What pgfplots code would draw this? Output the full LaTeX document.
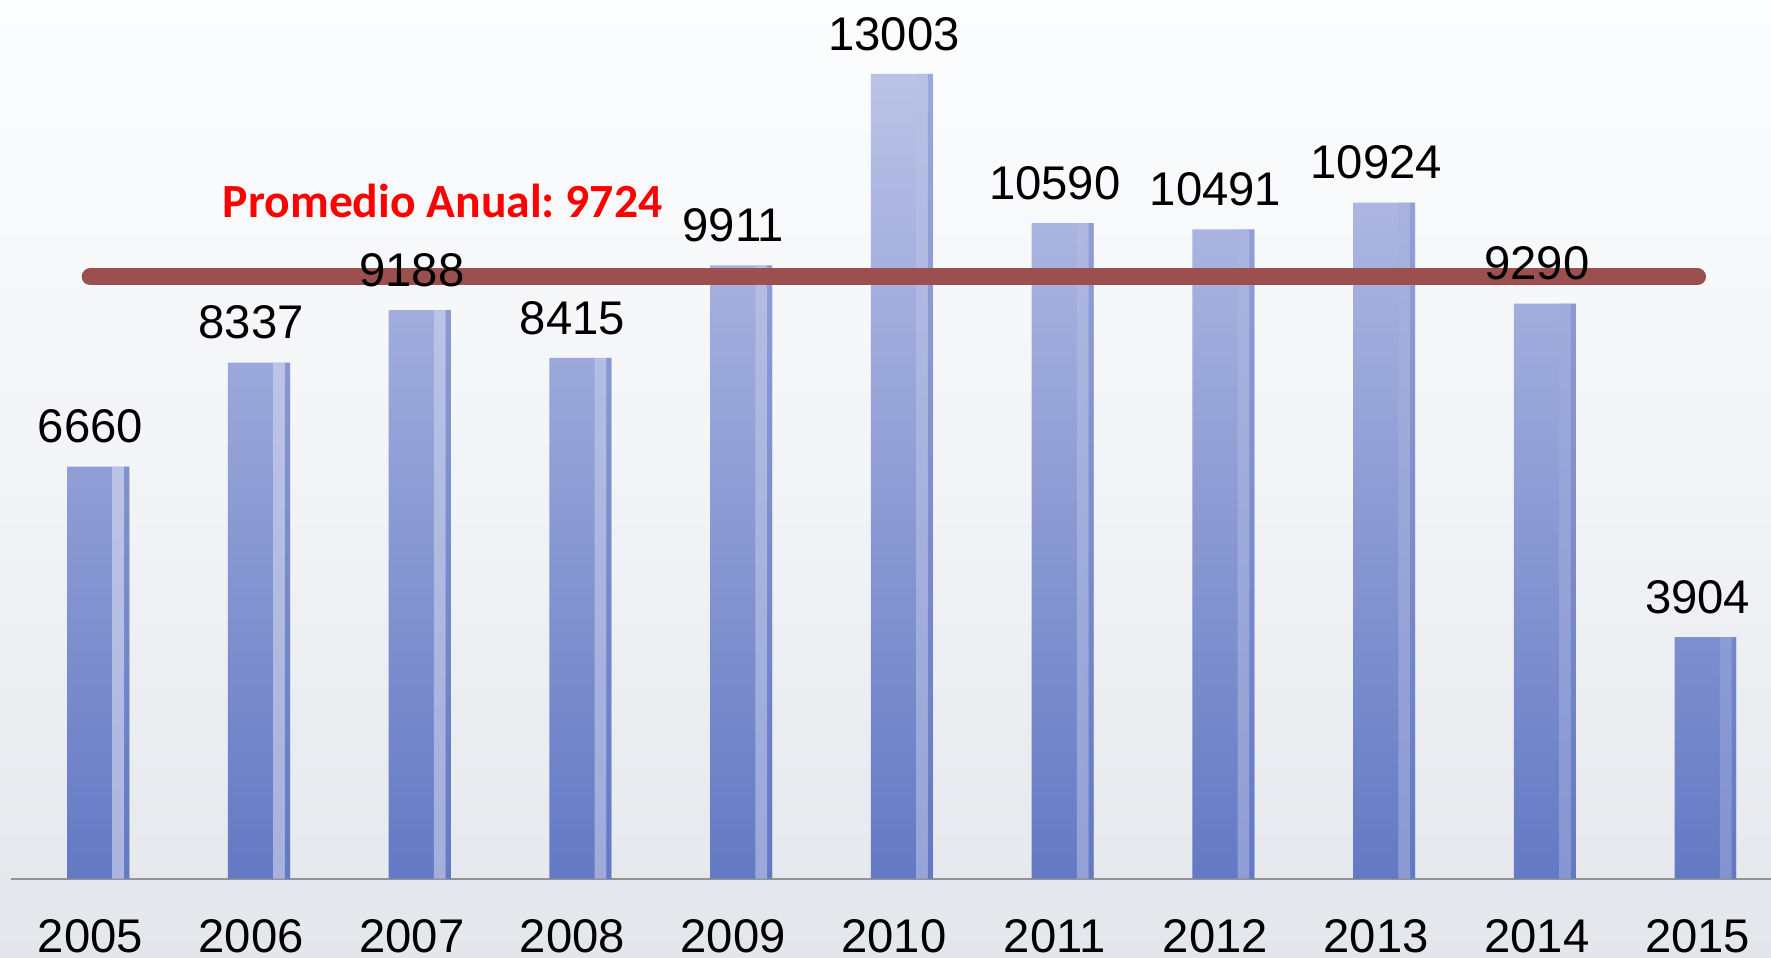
\documentclass[border=0pt]{standalone}
\usepackage{pgfplots}
\pgfplotsset{compat=1.18}
\usetikzlibrary{backgrounds}
\usepackage{fontspec}
\setmainfont{Liberation Sans}
\newfontfamily\calibri{Carlito}

\definecolor{bartop}{HTML}{BAC2E6}
\definecolor{barbot}{HTML}{6479C4}
\definecolor{avgline}{HTML}{9B4F4F}
\definecolor{bgtop}{HTML}{FCFDFE}
\definecolor{bgbot}{HTML}{E3E6EB}

\begin{document}
\begin{tikzpicture}
\begin{axis}[
  scale only axis,
  width=155.8mm, height=77.8mm,
  xmin=-0.541, xmax=10.407,
  ymin=0, ymax=14197,
  axis x line*=bottom, axis y line=none,
  x axis line style={draw=gray!85, line width=0.6pt, -},
  xtick={0,...,10},
  xticklabels={2005,2006,2007,2008,2009,2010,2011,2012,2013,2014,2015},
  major tick length=0pt,
  xticklabel style={font=\fontsize{11.9}{14}\selectfont, inner sep=0pt, anchor=north, yshift=-3.5mm, xshift=-0.7mm},
  clip=false,
  /pgf/number format/1000 sep={},
  /pgf/number format/assume math mode=true,
]
% bars
\addplot[ybar, bar width=5.5mm, draw=none, top color=bartop, bottom color=barbot]
  coordinates {(0,6660) (1,8337) (2,9188) (3,8415) (4,9911) (5,13003) (6,10590) (7,10491) (8,10924) (9,9290) (10,3904)};
% light strip and darker edge on the right side of each bar
\addplot[ybar, bar width=1.05mm, bar shift=1.78mm, draw=none, left color=white!45!bartop, right color=bartop!60!barbot, opacity=0.6]
  coordinates {(0,6660) (1,8337) (2,9188) (3,8415) (4,9911) (5,13003) (6,10590) (7,10491) (8,10924) (9,9290) (10,3904)};
\addplot[ybar, bar width=0.45mm, bar shift=2.53mm, draw=none, fill=barbot, opacity=0.35]
  coordinates {(0,6660) (1,8337) (2,9188) (3,8415) (4,9911) (5,13003) (6,10590) (7,10491) (8,10924) (9,9290) (10,3904)};
% average line
\addplot[avgline, line width=1.5mm, line cap=round, mark=none]
  coordinates {(-0.05,9724) (9.95,9724)};
% value labels
\addplot[draw=none, mark=none, nodes near coords,
  nodes near coords style={font=\fontsize{11.9}{14}\selectfont, text=black, inner sep=0pt, anchor=south, yshift=2mm, xshift=-0.7mm}]
  coordinates {(0,6660) (1,8337) (2,9188) (3,8415) (4,9911) (5,13003) (6,10590) (7,10491) (8,10924) (9,9290) (10,3904)};
\node[anchor=base, text=red, font=\calibri\bfseries\fontsize{12}{14}\selectfont] at (axis cs:2.143,10690) {Promedio Anual:\ 9724};
\coordinate (bl) at (axis cs:-0.611,-1277);
\coordinate (tr) at (axis cs:10.407,14197);
\end{axis}
\begin{scope}[on background layer]
\shade[top color=bgtop, bottom color=bgbot, middle color=bgtop!60!bgbot] (bl) rectangle (tr);
\end{scope}
\pgfresetboundingbox
\path[use as bounding box] (bl) rectangle (tr);
\end{tikzpicture}
\end{document}
